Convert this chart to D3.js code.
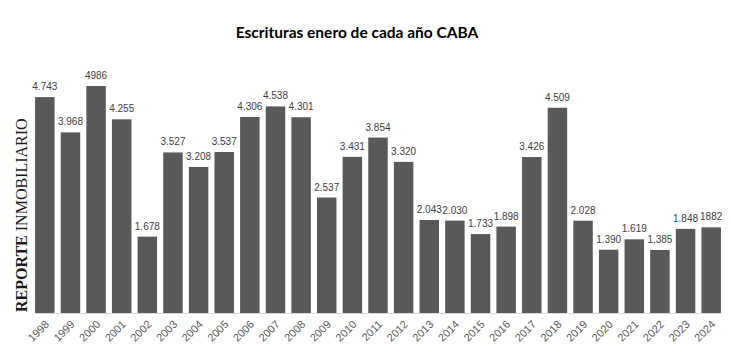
<!DOCTYPE html>
<html><head><meta charset="utf-8">
<script src="https://cdn.jsdelivr.net/npm/d3@7"></script>
<style>body{margin:0;background:#fff}svg{display:block}</style>
</head><body>
<script>
const years = ["1998","1999","2000","2001","2002","2003","2004","2005","2006","2007","2008","2009","2010","2011","2012","2013","2014","2015","2016","2017","2018","2019","2020","2021","2022","2023","2024"];
const values = [4743,3968,4986,4255,1678,3527,3208,3537,4306,4538,4301,2537,3431,3854,3320,2043,2030,1733,1898,3426,4509,2028,1390,1619,1385,1848,1882];
const labels = ["4.743","3.968","4986","4.255","1.678","3.527","3.208","3.537","4.306","4.538","4.301","2.537","3.431","3.854","3.320","2.043","2.030","1.733","1.898","3.426","4.509","2.028","1.390","1.619","1.385","1.848","1882"];
const title = "Escrituras enero de cada año CABA";
const watermarkBold = "REPORTE";
const watermarkRegular = " INMOBILIARIO";

const W = 731, H = 362;
const svg = d3.select("body").append("svg").attr("width", W).attr("height", H);

const x = d3.scaleBand().domain(years).range([32, 724]).paddingInner(0.24).paddingOuter(0.12);
const y = d3.scaleLinear().domain([0, 5000]).range([313, 85.4]);

svg.append("text").attr("x", 357).attr("y", 38).attr("text-anchor", "middle")
  .style("font-family", "Lato, 'Liberation Sans', sans-serif").style("font-weight", "bold")
  .style("font-size", "15.5px").attr("fill", "#000").text(title);

svg.append("g").selectAll("rect").data(values).join("rect")
  .attr("x", (d, i) => x(years[i])).attr("width", x.bandwidth())
  .attr("y", d => y(d)).attr("height", d => y(0) - y(d)).attr("fill", "#595959");

svg.append("g").selectAll("text").data(values).join("text")
  .attr("x", (d, i) => x(years[i]) + x.bandwidth() / 2).attr("y", d => y(d) - 7)
  .attr("text-anchor", "middle").style("font-family", "'Liberation Sans', Arial, sans-serif")
  .style("font-size", "10px").attr("fill", "#404040").text((d, i) => labels[i]);

const xAxis = svg.append("g").attr("transform", `translate(0,${y(0)})`).call(d3.axisBottom(x).tickSize(0).tickPadding(0));
xAxis.select(".domain").attr("stroke", "#d9d9d9").attr("d", "M35,0.5H722");
xAxis.selectAll(".tick text")
  .attr("text-anchor", "end").attr("dy", null).attr("y", 0)
  .attr("transform", "translate(5,12) rotate(-45)")
  .style("font-family", "'Liberation Sans', Arial, sans-serif").style("font-size", "11px").attr("fill", "#595959");

const wm = svg.append("text").attr("transform", "translate(26.5,312) rotate(-90)")
  .style("font-family", "'Liberation Serif', 'Times New Roman', serif").style("font-size", "16px").attr("fill", "#1a1a1a");
wm.append("tspan").style("font-weight", "bold").text(watermarkBold);
wm.append("tspan").text(watermarkRegular);
</script>
</body></html>
